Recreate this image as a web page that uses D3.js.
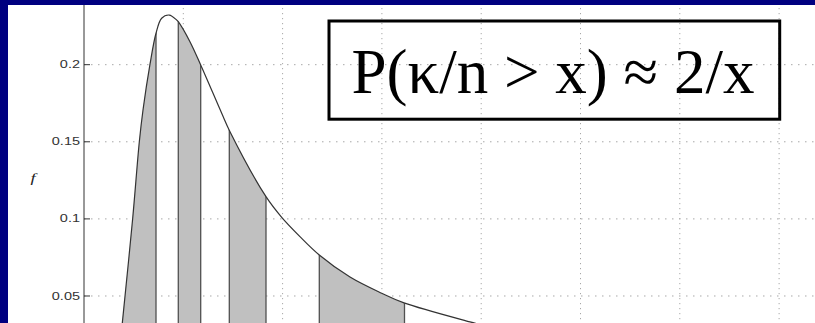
<!DOCTYPE html>
<html>
<head>
<meta charset="utf-8">
<script src="https://cdn.jsdelivr.net/npm/d3@7"></script>
<style>
  html, body { margin: 0; padding: 0; background: #fff; }
  svg { display: block; }
</style>
</head>
<body>
<svg id="chart" width="815" height="323"></svg>
<script>
// Density curve f(u), sampled along the horizontal axis
const uValues = [0.370, 0.3857, 0.4904, 0.5569, 0.5942, 0.6647, 0.7251, 0.782, 0.859, 0.933, 0.9496, 1.067, 1.1752, 1.3867, 1.4703, 1.8328, 1.991, 2.175, 2.3696, 2.6788, 2.998, 3.2226, 3.887, 4.05];
const fValues = [0.0224, 0.0324, 0.1004, 0.1499, 0.1706, 0.2003, 0.2204, 0.2301, 0.2322, 0.2290, 0.2279, 0.2149, 0.1998, 0.1685, 0.1565, 0.1144, 0.1010, 0.0885, 0.0766, 0.0623, 0.0518, 0.0455, 0.0332, 0.0305];

// Shaded intervals under the curve
const bandStarts = [0.0, 0.9496, 1.4633, 2.3696];
const bandEnds   = [0.7251, 1.1752, 1.8328, 3.2276];

// Axis ticks
const yTicks = [0.05, 0.1, 0.15, 0.2];
const yTickLabels = ["0.05", "0.1", "0.15", "0.2"];
const yLabel = "f";
const formula = "P(\u03BA/n > x) \u2248 2/x";

const W = 815, H = 323;
const svg = d3.select("#chart");

const x = d3.scaleLinear().domain([0, 8]).range([84, 84 + 8 * 99.3]);
const y = d3.scaleLinear().domain([0, 0.24]).range([373.1, 3.0]);

const pts = uValues.map((u, i) => [u, fValues[i]]);

svg.append("rect").attr("width", W).attr("height", H).attr("fill", "#fff");

// grid
const grid = svg.append("g");
grid.selectAll("line.gx").data(x.ticks(8).filter(t => t > 0)).join("line")
  .attr("x1", d => x(d)).attr("x2", d => x(d))
  .attr("y1", y(0.24)).attr("y2", y(0))
  .attr("stroke", "#a8a8a8").attr("stroke-width", 1)
  .attr("stroke-dasharray", "1.2,3.8");
grid.selectAll("line.gy").data(yTicks).join("line")
  .attr("x1", x(0)).attr("x2", x(8))
  .attr("y1", d => y(d)).attr("y2", d => y(d))
  .attr("stroke", "#a8a8a8").attr("stroke-width", 1)
  .attr("stroke-dasharray", "1.5,5.5");

// area under the curve, used as a clip for the shaded bands
const smooth = d3.curveCatmullRom.alpha(0.5);
const area = d3.area().x(d => x(d[0])).y0(y(0)).y1(d => y(d[1])).curve(smooth);
const line = d3.line().x(d => x(d[0])).y(d => y(d[1])).curve(smooth);

const defs = svg.append("defs");
defs.append("clipPath").attr("id", "under")
  .append("path").attr("d", area(pts));

const bands = bandStarts.map((s, i) => [s, bandEnds[i]]);
const shaded = svg.append("g").attr("clip-path", "url(#under)");
shaded.selectAll("rect").data(bands).join("rect")
  .attr("x", d => x(d[0])).attr("width", d => x(d[1]) - x(d[0]))
  .attr("y", y(0.24)).attr("height", y(0) - y(0.24))
  .attr("fill", "#c0c0c0");
const edges = bands.flat().filter(u => u > uValues[0]);
shaded.selectAll("line").data(edges).join("line")
  .attr("x1", d => x(d)).attr("x2", d => x(d))
  .attr("y1", y(0.24)).attr("y2", y(0))
  .attr("stroke", "#505050").attr("stroke-width", 1.3);

svg.append("path").attr("d", line(pts))
  .attr("fill", "none").attr("stroke", "#333").attr("stroke-width", 1.2);

// y axis
const ax = svg.append("g");
ax.append("line").attr("x1", x(0)).attr("x2", x(0))
  .attr("y1", y(0.24)).attr("y2", y(0))
  .attr("stroke", "#333").attr("stroke-width", 1);
ax.selectAll("line.tk").data(yTicks).join("line")
  .attr("x1", x(0)).attr("x2", x(0) + 6)
  .attr("y1", d => y(d)).attr("y2", d => y(d))
  .attr("stroke", "#333").attr("stroke-width", 1);
ax.selectAll("text").data(yTicks).join("text")
  .attr("transform", d => `translate(${x(0) - 4},${y(d)}) scale(1.45,1)`)
  .attr("text-anchor", "end").attr("dy", "0.36em")
  .attr("font-family", "'Liberation Sans', Arial, sans-serif")
  .attr("font-size", 10).attr("fill", "#333")
  .text((d, i) => yTickLabels[i]);

svg.append("text")
  .attr("transform", `translate(33,182) scale(1.4,1)`)
  .attr("text-anchor", "middle")
  .attr("font-family", "'Liberation Serif', 'Times New Roman', serif")
  .attr("font-style", "italic").attr("font-size", 13).attr("fill", "#222")
  .text(yLabel);

// formula box
svg.append("rect").attr("x", 329).attr("y", 21).attr("width", 450.7).attr("height", 98.2)
  .attr("fill", "none").attr("stroke", "#000").attr("stroke-width", 3);
svg.append("text").attr("x", 553).attr("y", 93.3)
  .attr("text-anchor", "middle")
  .attr("font-family", "'Liberation Serif', 'Times New Roman', serif")
  .attr("font-size", 63).attr("fill", "#000")
  .text(formula);

// slide frame
svg.append("rect").attr("x", 0).attr("y", 0).attr("width", W).attr("height", 5).attr("fill", "#000080");
svg.append("rect").attr("x", 0).attr("y", 0).attr("width", 8).attr("height", H).attr("fill", "#000080");
</script>
</body>
</html>
